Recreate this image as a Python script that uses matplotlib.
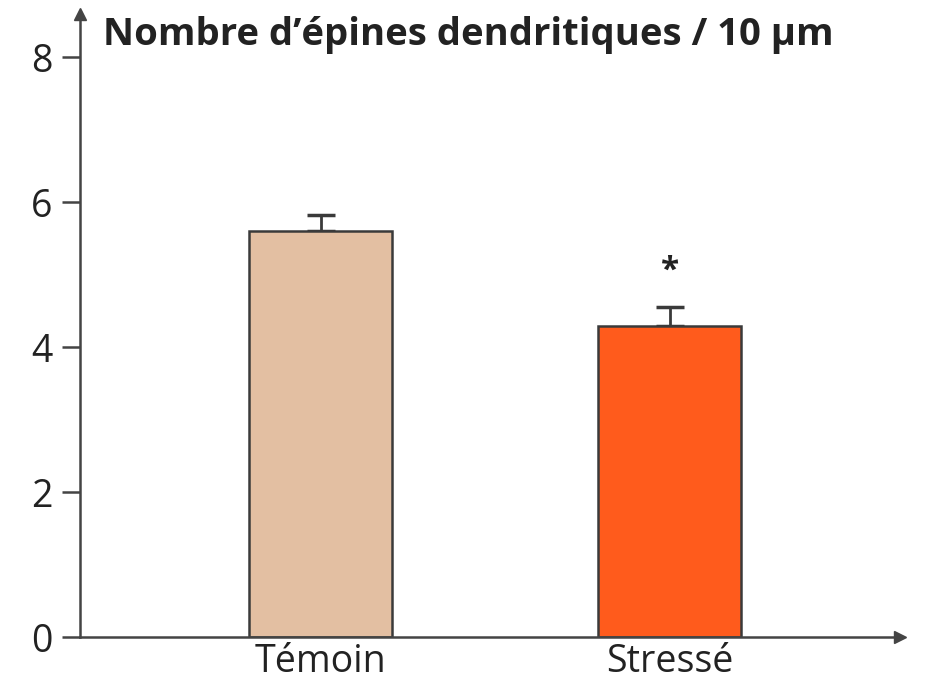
import matplotlib
matplotlib.use("Agg")
import matplotlib.pyplot as plt

categories = ["Témoin", "Stressé"]
values = [5.6, 4.3]
errors = [0.22, 0.25]
colors = ["#E3BFA2", "#FF5B1C"]
yticks = [0, 2, 4, 6, 8]
title = "Nombre d’épines dendritiques / 10 µm"

plt.rcParams['font.family'] = ['Open Sans', 'DejaVu Sans']

fig = plt.figure(figsize=(9.26, 6.80), dpi=100)
ax = fig.add_axes([80/926, 43/680, 820/926, 623/680])

x = list(range(len(categories)))
ax.bar(x, values, width=0.41, color=colors, edgecolor="#3a3a3a", linewidth=1.8, zorder=2)
ax.errorbar(x, values, yerr=[[0]*len(errors), errors], fmt="none", ecolor="#3a3a3a",
            elinewidth=2, capsize=10, capthick=2.5, zorder=1)
ax.text(1, 5.05, "*", ha="center", va="center", fontsize=24, fontweight="bold", color="#222222")

ax.set_xlim(-0.69, 1.66)
ax.set_ylim(0, 8.6)
ax.set_xticks(x)
ax.set_xticklabels(categories, fontsize=27, color="#222222")
for lbl in ax.get_xticklabels():
    lbl.set_verticalalignment("baseline")
ax.set_yticks(yticks)
ax.set_yticklabels([str(t) for t in yticks], fontsize=27, color="#222222")
ax.tick_params(axis="y", direction="out", length=13, width=1.8, color="#444444", pad=7)
ax.tick_params(axis="x", length=0, pad=25)

for s in ["top", "right"]:
    ax.spines[s].set_visible(False)
for s in ["left", "bottom"]:
    ax.spines[s].set_color("#444444")
    ax.spines[s].set_linewidth(1.8)

ax.plot(1, 0, marker=">", color="#444444", markersize=8, transform=ax.transAxes, clip_on=False)
ax.plot(0, 1, marker="^", color="#444444", markersize=8, transform=ax.transAxes, clip_on=False)

fig.text(103/926, 1 - 45/680, title, fontsize=27.5, fontweight="bold", color="#222222",
         va="baseline", ha="left")

fig.savefig("out.png", dpi=100, facecolor="white")
